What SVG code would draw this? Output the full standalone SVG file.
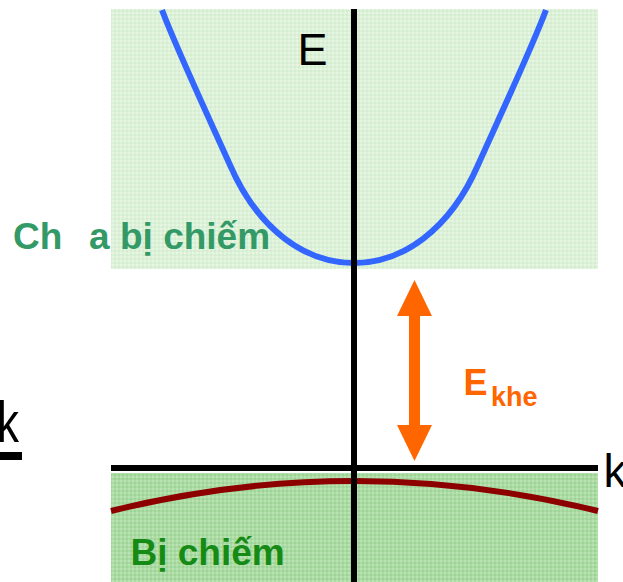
<svg xmlns="http://www.w3.org/2000/svg" width="623" height="582" viewBox="0 0 623 582">
  <style>
    .sans { font-family: "Liberation Sans", Arial, sans-serif; }
    .axis { stroke: #000000; stroke-width: 6; fill: none; }
    .lbl-top { fill: #339966; font-weight: bold; font-size: 37px; }
    .lbl-bot { fill: #158a15; font-weight: bold; font-size: 37px; }
    .gap { fill: #ff6600; }
  </style>
  <defs>
    <pattern id="texLight" width="4" height="4" patternUnits="userSpaceOnUse">
      <rect width="4" height="4" fill="#dcf1d7"/>
      <rect width="2" height="2" fill="#e6f6e2"/>
      <rect x="2" y="2" width="2" height="2" fill="#d4eccf"/>
    </pattern>
    <pattern id="texDark" width="4" height="4" patternUnits="userSpaceOnUse">
      <rect width="4" height="4" fill="#aadba2"/>
      <rect width="2" height="2" fill="#bae3b3"/>
      <rect x="2" y="2" width="2" height="2" fill="#9fd297"/>
    </pattern>
  </defs>

  <g id="conduction-region">
    <rect x="111" y="9" width="487" height="260" fill="url(#texLight)"/>
  </g>
  <g id="valence-region">
    <rect x="111" y="473" width="487" height="109" fill="url(#texDark)"/>
  </g>

  <g id="bands">
    <path id="conduction-band" fill="none" stroke="#3366ff" stroke-width="6" stroke-linejoin="round"
      d="M162,10 C177,50 214,129 230,165 C286.6,295.7 421.4,295.7 478,165 C494,129 531,50 546,10"/>
    <path id="valence-band" fill="none" stroke="#8c0000" stroke-width="6" d="M111,511 Q354,451 598,511"/>
  </g>

  <g id="connectors">
    <line class="axis" x1="354" y1="9" x2="354" y2="582"/>
    <line class="axis" x1="111" y1="468" x2="598" y2="468"/>
    <rect x="0" y="452" width="22" height="8" fill="#000000"/>
    <polygon id="gap-arrow" class="gap" points="414.5,280 432,316 420,316 420,425 432,425 414.5,461 397,425 409,425 409,316 397,316"/>
  </g>

  <g id="labels" class="sans">
    <text x="297.5" y="65" font-size="45" fill="#000000">E</text>
    <text x="603.5" y="487" font-size="46" fill="#000000">k</text>
    <text x="-3" y="442" font-size="44" fill="#000000" transform="translate(0,442) scale(1,1.3) translate(0,-442)">k</text>
    <text class="lbl-top" y="249"><tspan x="13">Ch</tspan><tspan x="89">a</tspan><tspan x="120">bị chiếm</tspan></text>
    <text class="lbl-bot" x="130.5" y="565">Bị chiếm</text>
    <text fill="#ff6600" font-weight="bold"><tspan x="463.5" y="395" font-size="36">E</tspan><tspan x="491" y="406" font-size="27">khe</tspan></text>
  </g>
</svg>
